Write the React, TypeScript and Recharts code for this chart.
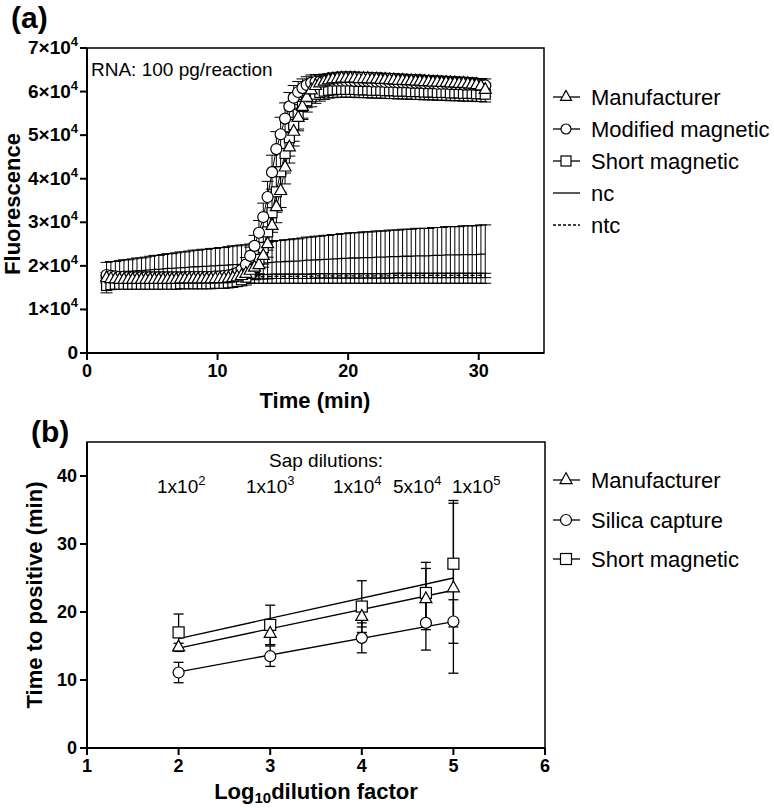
import { LineChart, Line, XAxis, YAxis, ErrorBar, ReferenceArea } from "recharts";

const FONT = '"Liberation Sans", Arial, Helvetica, sans-serif';

// ---------- (a) amplification curves, RNA 100 pg/reaction ----------
// time in minutes, fluorescence in thousands (axis shows x10^4)
const timeMin = [
  1.5, 1.83, 2.17, 2.5, 2.83, 3.17, 3.5, 3.83, 4.17, 4.5, 4.83, 5.17,
  5.5, 5.83, 6.17, 6.5, 6.83, 7.17, 7.5, 7.83, 8.17, 8.5, 8.83, 9.17,
  9.5, 9.83, 10.17, 10.5, 10.83, 11.17, 11.5, 11.83, 12.17, 12.5, 12.83, 13.17,
  13.5, 13.83, 14.17, 14.5, 14.83, 15.17, 15.5, 15.83, 16.17, 16.5, 16.83, 17.17,
  17.5, 17.83, 18.17, 18.5, 18.83, 19.17, 19.5, 19.83, 20.17, 20.5, 20.83, 21.17,
  21.5, 21.83, 22.17, 22.5, 22.83, 23.17, 23.5, 23.83, 24.17, 24.5, 24.83, 25.17,
  25.5, 25.83, 26.17, 26.5, 26.83, 27.17, 27.5, 27.83, 28.17, 28.5, 28.83, 29.17,
  29.5, 29.83, 30.17, 30.5,
];

const manufacturer = [
  17.2, 17.0, 16.9, 16.8, 16.8, 16.8, 16.8, 16.8, 16.8, 16.8, 16.8, 16.8,
  16.8, 16.8, 16.8, 16.8, 16.8, 16.9, 16.9, 16.9, 16.9, 16.9, 16.9, 16.9,
  16.9, 17.0, 17.0, 17.0, 17.1, 17.2, 17.4, 17.7, 18.2, 18.9, 19.6, 20.2,
  22.3, 25.0, 29.2, 33.5, 37.2, 42.6, 47.2, 50.8, 54.0, 56.5, 58.6, 60.3,
  61.3, 61.9, 62.3, 62.6, 62.8, 62.9, 63.0, 63.0, 63.0, 63.0, 62.9, 62.9,
  62.9, 62.8, 62.8, 62.7, 62.7, 62.6, 62.6, 62.5, 62.5, 62.4, 62.4, 62.3,
  62.3, 62.2, 62.2, 62.1, 62.1, 62.0, 62.0, 61.9, 61.9, 61.8, 61.8, 61.7,
  61.6, 61.5, 61.2, 60.4,
];
const manufacturerErr = [
  0.6, 0.5, 0.5, 0.5, 0.5, 0.5, 0.5, 0.5, 0.5, 0.5, 0.5, 0.5,
  0.5, 0.5, 0.5, 0.5, 0.5, 0.5, 0.5, 0.5, 0.5, 0.5, 0.5, 0.5,
  0.5, 0.5, 0.5, 0.5, 0.5, 0.6, 0.7, 0.9, 1.2, 1.5, 1.8, 2.2,
  2.6, 3.0, 3.4, 3.6, 3.8, 3.8, 3.6, 3.3, 3.0, 2.6, 2.3, 2.0,
  1.8, 1.7, 1.6, 1.5, 1.5, 1.5, 1.5, 1.5, 1.5, 1.5, 1.5, 1.5,
  1.5, 1.5, 1.5, 1.5, 1.5, 1.5, 1.5, 1.5, 1.5, 1.5, 1.5, 1.5,
  1.5, 1.5, 1.5, 1.5, 1.5, 1.5, 1.5, 1.5, 1.5, 1.5, 1.5, 1.5,
  1.5, 1.5, 1.5, 1.5,
];

const modifiedMagnetic = [
  17.9, 17.7, 17.6, 17.5, 17.5, 17.4, 17.4, 17.4, 17.4, 17.4, 17.4, 17.4,
  17.4, 17.4, 17.4, 17.4, 17.4, 17.4, 17.4, 17.5, 17.5, 17.5, 17.5, 17.5,
  17.5, 17.6, 17.6, 17.7, 17.8, 18.0, 18.4, 19.1, 20.3, 22.3, 24.6, 27.6,
  31.2, 35.8, 41.5, 46.8, 50.2, 53.8, 56.6, 58.6, 59.9, 60.8, 61.5, 62.0,
  62.2, 62.3, 62.4, 62.5, 62.5, 62.5, 62.5, 62.5, 62.5, 62.4, 62.4, 62.4,
  62.4, 62.3, 62.3, 62.3, 62.2, 62.2, 62.2, 62.1, 62.1, 62.1, 62.0, 62.0,
  62.0, 61.9, 61.9, 61.9, 61.8, 61.8, 61.8, 61.7, 61.7, 61.7, 61.6, 61.6,
  61.6, 61.5, 61.5, 61.4,
];
const modifiedMagneticErr = [
  0.6, 0.5, 0.5, 0.5, 0.5, 0.5, 0.5, 0.5, 0.5, 0.5, 0.5, 0.5,
  0.5, 0.5, 0.5, 0.5, 0.5, 0.5, 0.5, 0.5, 0.5, 0.5, 0.5, 0.5,
  0.5, 0.5, 0.5, 0.5, 0.6, 0.7, 0.9, 1.2, 1.6, 2.0, 2.4, 2.8,
  3.2, 3.6, 3.9, 4.0, 3.9, 3.6, 3.2, 2.8, 2.4, 2.1, 1.9, 1.8,
  1.7, 1.6, 1.6, 1.5, 1.5, 1.5, 1.5, 1.5, 1.5, 1.5, 1.5, 1.5,
  1.5, 1.5, 1.5, 1.5, 1.5, 1.5, 1.5, 1.5, 1.5, 1.5, 1.5, 1.5,
  1.5, 1.5, 1.5, 1.5, 1.5, 1.5, 1.5, 1.5, 1.5, 1.5, 1.5, 1.5,
  1.5, 1.5, 1.5, 1.5,
];

const shortMagnetic = [
  15.5, 15.7, 15.8, 15.8, 15.8, 15.8, 15.8, 15.8, 15.8, 15.8, 15.8, 15.8,
  15.8, 15.8, 15.8, 15.8, 15.8, 15.9, 15.9, 15.9, 15.9, 15.9, 15.9, 15.9,
  15.9, 16.0, 16.0, 16.0, 16.1, 16.2, 16.4, 16.8, 17.4, 18.3, 19.6, 21.5,
  24.2, 27.8, 32.2, 37.0, 41.6, 45.8, 49.4, 52.4, 54.8, 56.6, 57.9, 58.8,
  59.4, 59.8, 60.1, 60.3, 60.4, 60.5, 60.5, 60.5, 60.5, 60.5, 60.4, 60.4,
  60.4, 60.3, 60.3, 60.3, 60.2, 60.2, 60.2, 60.1, 60.1, 60.1, 60.0, 60.0,
  60.0, 59.9, 59.9, 59.9, 59.8, 59.8, 59.8, 59.7, 59.7, 59.7, 59.6, 59.6,
  59.6, 59.5, 59.5, 59.4,
];
const shortMagneticErr = [
  1.7, 1.0, 0.8, 0.7, 0.7, 0.7, 0.7, 0.7, 0.7, 0.7, 0.7, 0.7,
  0.7, 0.7, 0.7, 0.7, 0.7, 0.7, 0.7, 0.7, 0.7, 0.7, 0.7, 0.7,
  0.7, 0.7, 0.7, 0.7, 0.8, 0.9, 1.1, 1.4, 1.8, 2.3, 2.8, 3.3,
  3.8, 4.2, 4.5, 4.7, 4.7, 4.5, 4.2, 3.8, 3.4, 3.0, 2.6, 2.3,
  2.1, 2.0, 1.9, 1.8, 1.8, 1.8, 1.8, 1.8, 1.8, 1.8, 1.8, 1.8,
  1.8, 1.8, 1.8, 1.8, 1.8, 1.8, 1.8, 1.8, 1.8, 1.8, 1.8, 1.8,
  1.8, 1.8, 1.8, 1.8, 1.8, 1.8, 1.8, 1.8, 1.8, 1.8, 1.8, 1.8,
  1.8, 1.8, 1.8, 1.8,
];

const ncMean = [
  18.4, 18.5, 18.5, 18.6, 18.7, 18.7, 18.8, 18.9, 18.9, 19.0, 19.1, 19.2,
  19.2, 19.3, 19.4, 19.4, 19.5, 19.6, 19.6, 19.7, 19.8, 19.8, 19.9, 19.9,
  20.0, 20.0, 20.1, 20.1, 20.2, 20.3, 20.3, 20.4, 20.4, 20.5, 20.6, 20.6,
  20.7, 20.7, 20.8, 20.9, 20.9, 21.0, 21.0, 21.1, 21.1, 21.2, 21.3, 21.3,
  21.4, 21.4, 21.5, 21.5, 21.6, 21.6, 21.7, 21.7, 21.8, 21.8, 21.8, 21.9,
  21.9, 21.9, 22.0, 22.0, 22.0, 22.1, 22.1, 22.1, 22.2, 22.2, 22.2, 22.3,
  22.3, 22.3, 22.3, 22.4, 22.4, 22.4, 22.5, 22.5, 22.5, 22.5, 22.6, 22.6,
  22.6, 22.6, 22.7, 22.7,
];
const ncErr = [
  2.4, 2.5, 2.5, 2.6, 2.7, 2.7, 2.8, 2.9, 2.9, 3.0, 3.1, 3.2,
  3.2, 3.3, 3.4, 3.4, 3.5, 3.6, 3.6, 3.7, 3.8, 3.8, 3.9, 3.9,
  4.0, 4.0, 4.1, 4.1, 4.2, 4.3, 4.3, 4.4, 4.4, 4.5, 4.6, 4.6,
  4.7, 4.7, 4.8, 4.9, 4.9, 5.0, 5.0, 5.1, 5.1, 5.2, 5.3, 5.3,
  5.4, 5.4, 5.5, 5.5, 5.6, 5.6, 5.7, 5.7, 5.8, 5.8, 5.8, 5.9,
  5.9, 5.9, 6.0, 6.0, 6.0, 6.1, 6.1, 6.1, 6.2, 6.2, 6.2, 6.3,
  6.3, 6.3, 6.3, 6.4, 6.4, 6.4, 6.5, 6.5, 6.5, 6.5, 6.6, 6.6,
  6.6, 6.6, 6.7, 6.7,
];

const ntcMean = [
  17.2, 17.2, 17.2, 17.2, 17.2, 17.2, 17.2, 17.3, 17.3, 17.3, 17.3, 17.3,
  17.3, 17.3, 17.3, 17.3, 17.3, 17.4, 17.4, 17.4, 17.4, 17.4, 17.4, 17.4,
  17.4, 17.4, 17.4, 17.5, 17.5, 17.5, 17.5, 17.5, 17.5, 17.5, 17.5, 17.5,
  17.5, 17.5, 17.6, 17.6, 17.6, 17.6, 17.6, 17.6, 17.6, 17.6, 17.6, 17.6,
  17.7, 17.7, 17.7, 17.7, 17.7, 17.7, 17.7, 17.7, 17.7, 17.7, 17.7, 17.7,
  17.7, 17.7, 17.7, 17.7, 17.7, 17.7, 17.8, 17.8, 17.8, 17.8, 17.8, 17.8,
  17.8, 17.8, 17.8, 17.8, 17.8, 17.8, 17.8, 17.8, 17.8, 17.8, 17.8, 17.8,
  17.8, 17.8, 17.8, 17.8,
];
const ntcErr = [
  0.5, 0.5, 0.5, 0.5, 0.5, 0.5, 0.5, 0.5, 0.5, 0.5, 0.5, 0.5,
  0.5, 0.5, 0.5, 0.5, 0.5, 0.5, 0.5, 0.5, 0.5, 0.5, 0.5, 0.5,
  0.5, 0.5, 0.5, 0.5, 0.5, 0.5, 0.5, 0.5, 0.5, 0.5, 0.5, 0.5,
  0.5, 0.5, 0.5, 0.5, 0.5, 0.5, 0.5, 0.5, 0.5, 0.5, 0.5, 0.5,
  0.5, 0.5, 0.5, 0.5, 0.5, 0.5, 0.5, 0.5, 0.5, 0.5, 0.5, 0.5,
  0.5, 0.5, 0.5, 0.5, 0.5, 0.5, 0.5, 0.5, 0.5, 0.5, 0.5, 0.5,
  0.5, 0.5, 0.5, 0.5, 0.5, 0.5, 0.5, 0.5, 0.5, 0.5, 0.5, 0.5,
  0.5, 0.5, 0.5, 0.5,
];

const fluorTicks = [0, 10, 20, 30, 40, 50, 60, 70];
const timeTicks = [0, 10, 20, 30];

// ---------- (b) time to positive vs sap dilution ----------
const dilutionLog = [2, 3, 4, 4.7, 5];
const manufacturerTtp = [14.8, 16.8, 19.3, 21.9, 23.5];
const manufacturerTtpSd = [0.6, 1.6, 1.5, 4.5, 12.5];
const silicaTtp = [11.1, 13.5, 16.2, 18.4, 18.6];
const silicaTtpSd = [1.5, 1.5, 2.2, 4.0, 3.2];
const shortTtp = [17.0, 18.1, 20.8, 22.8, 27.1];
const shortTtpSd = [2.7, 2.9, 3.8, 4.5, 9.3];
// linear fits, values at the ends x = 2 and x = 5
const fitX = [2, 5];
const manufacturerFit = [14.7, 23.2];
const silicaFit = [11.2, 18.6];
const shortFit = [16.1, 25.0];
const sapLabels = [
  ["1", "2"],
  ["1", "3"],
  ["1", "4"],
  ["5", "4"],
  ["1", "5"],
];
const ttpTicks = [0, 10, 20, 30, 40];
const logTicks = [1, 2, 3, 4, 5, 6];

const curveData = timeMin.map((t, i) => ({
  t,
  man: manufacturer[i],
  manErr: manufacturerErr[i],
  mod: modifiedMagnetic[i],
  modErr: modifiedMagneticErr[i],
  sh: shortMagnetic[i],
  shErr: shortMagneticErr[i],
  nc: ncMean[i],
  ncErr: ncErr[i],
  ntc: ntcMean[i],
  ntcErr: ntcErr[i],
}));

const ttpData = dilutionLog.map((x, i) => {
  const f = fitX.indexOf(x);
  return {
    x,
    man: manufacturerTtp[i],
    manSd: manufacturerTtpSd[i],
    sil: silicaTtp[i],
    silSd: silicaTtpSd[i],
    sh: shortTtp[i],
    shSd: shortTtpSd[i],
    manFit: f >= 0 ? manufacturerFit[f] : null,
    silFit: f >= 0 ? silicaFit[f] : null,
    shFit: f >= 0 ? shortFit[f] : null,
  };
});

type MP = { cx: number; cy: number; s: number };

function Tri({ cx, cy, s }: MP) {
  const h = s * 0.9;
  const pts = `${cx},${cy - (2 * h) / 3} ${cx - s / 2},${cy + h / 3} ${cx + s / 2},${cy + h / 3}`;
  return <polygon points={pts} fill="#fff" stroke="#000" strokeWidth={1.2} />;
}
function Circ({ cx, cy, s }: MP) {
  return <circle cx={cx} cy={cy} r={s / 2} fill="#fff" stroke="#000" strokeWidth={1.2} />;
}
function Sq({ cx, cy, s }: MP) {
  return <rect x={cx - s / 2} y={cy - s / 2} width={s} height={s} fill="#fff" stroke="#000" strokeWidth={1.2} />;
}

const dotOf = (Shape: (p: MP) => any, s: number, id: string) => (p: any) => {
  if (p.cx == null || p.cy == null || p.value == null) return <g key={`${id}-${p.index}`} />;
  return (
    <g key={`${id}-${p.index}`}>
      <Shape cx={p.cx} cy={p.cy} s={s} />
    </g>
  );
};

function SciTick(props: any) {
  const { x, y, payload } = props;
  const v = payload.value;
  return (
    <text x={x} y={y} dy={6} textAnchor="end" fontFamily={FONT} fontSize={19} fontWeight={700} fill="#000">
      {v === 0 ? (
        "0"
      ) : (
        <>
          {v / 10}×10
          <tspan fontSize={13} dy={-8}>
            4
          </tspan>
        </>
      )}
    </text>
  );
}

const axisStroke = { stroke: "#000", strokeWidth: 2 };
const tickFont = { fill: "#000", fontSize: 18, fontWeight: 700, fontFamily: FONT };

function LegendRow({ y, label, marker, dash }: { y: number; label: string; marker?: any; dash?: string }) {
  return (
    <g>
      <line x1={553} x2={580} y1={y} y2={y} stroke="#000" strokeWidth={1.3} strokeDasharray={dash} />
      {marker}
      <text x={591} y={y + 8} fontSize={22} fontFamily={FONT} fill="#000">
        {label}
      </text>
    </g>
  );
}

const sapLeft = [157, 246, 333, 393, 452];

export default function App() {
  return (
    <div style={{ position: "absolute", left: 0, top: 0, width: 774, height: 808, background: "#fff", fontFamily: FONT }}>
      <div style={{ position: "absolute", left: 0, top: 0 }}>
        <LineChart width={774} height={420} data={curveData} margin={{ top: 48, right: 230, left: 27, bottom: 27 }}>
          <XAxis
            type="number"
            dataKey="t"
            domain={[0, 35]}
            ticks={timeTicks}
            allowDataOverflow
            height={40}
            tickSize={7}
            tickMargin={4}
            axisLine={axisStroke}
            tickLine={axisStroke}
            tick={tickFont}
          />
          <YAxis
            type="number"
            domain={[0, 70]}
            ticks={fluorTicks}
            width={60}
            tickSize={7}
            tickMargin={2}
            axisLine={axisStroke}
            tickLine={axisStroke}
            tick={(p: any) => <SciTick {...p} />}
          />
          <ReferenceArea x1={0} x2={35} y1={0} y2={70} fill="none" stroke="#000" strokeWidth={1.5} />
          <Line dataKey="nc" stroke="#000" strokeWidth={1.3} dot={false} activeDot={false} isAnimationActive={false}>
            <ErrorBar dataKey="ncErr" direction="y" width={6} stroke="#000" strokeWidth={1} isAnimationActive={false} />
          </Line>
          <Line dataKey="ntc" stroke="#000" strokeWidth={1.3} strokeDasharray="4 3" dot={false} activeDot={false} isAnimationActive={false}>
            <ErrorBar dataKey="ntcErr" direction="y" width={6} stroke="#000" strokeWidth={1} isAnimationActive={false} />
          </Line>
          <Line dataKey="sh" stroke="#000" strokeWidth={1} dot={dotOf(Sq, 10, "sq")} activeDot={false} isAnimationActive={false}>
            <ErrorBar dataKey="shErr" direction="y" width={6} stroke="#000" strokeWidth={1} isAnimationActive={false} />
          </Line>
          <Line dataKey="mod" stroke="#000" strokeWidth={1} dot={dotOf(Circ, 11, "ci")} activeDot={false} isAnimationActive={false}>
            <ErrorBar dataKey="modErr" direction="y" width={6} stroke="#000" strokeWidth={1} isAnimationActive={false} />
          </Line>
          <Line dataKey="man" stroke="#000" strokeWidth={1} dot={dotOf(Tri, 12, "tr")} activeDot={false} isAnimationActive={false}>
            <ErrorBar dataKey="manErr" direction="y" width={6} stroke="#000" strokeWidth={1} isAnimationActive={false} />
          </Line>
        </LineChart>
      </div>

      <div style={{ position: "absolute", left: 0, top: 420 }}>
        <LineChart width={774} height={388} data={ttpData} margin={{ top: 22, right: 229, left: 27, bottom: 20 }}>
          <XAxis
            type="number"
            dataKey="x"
            domain={[1, 6]}
            ticks={logTicks}
            height={40}
            tickSize={7}
            tickMargin={4}
            axisLine={axisStroke}
            tickLine={axisStroke}
            tick={tickFont}
          />
          <YAxis
            type="number"
            domain={[0, 45]}
            ticks={ttpTicks}
            width={60}
            tickSize={7}
            tickMargin={3}
            axisLine={axisStroke}
            tickLine={axisStroke}
            tick={tickFont}
          />
          <ReferenceArea x1={1} x2={6} y1={0} y2={45} fill="none" stroke="#000" strokeWidth={1.5} />
          <Line dataKey="shFit" connectNulls stroke="#000" strokeWidth={1.3} dot={false} activeDot={false} isAnimationActive={false} />
          <Line dataKey="manFit" connectNulls stroke="#000" strokeWidth={1.3} dot={false} activeDot={false} isAnimationActive={false} />
          <Line dataKey="silFit" connectNulls stroke="#000" strokeWidth={1.3} dot={false} activeDot={false} isAnimationActive={false} />
          <Line dataKey="sh" stroke="none" dot={false} activeDot={false} isAnimationActive={false}>
            <ErrorBar dataKey="shSd" direction="y" width={5} stroke="#000" strokeWidth={1.3} isAnimationActive={false} />
          </Line>
          <Line dataKey="man" stroke="none" dot={false} activeDot={false} isAnimationActive={false}>
            <ErrorBar dataKey="manSd" direction="y" width={5} stroke="#000" strokeWidth={1.3} isAnimationActive={false} />
          </Line>
          <Line dataKey="sil" stroke="none" dot={false} activeDot={false} isAnimationActive={false}>
            <ErrorBar dataKey="silSd" direction="y" width={5} stroke="#000" strokeWidth={1.3} isAnimationActive={false} />
          </Line>
          <Line dataKey="sh" stroke="none" dot={dotOf(Sq, 11, "bsq")} activeDot={false} isAnimationActive={false} />
          <Line dataKey="man" stroke="none" dot={dotOf(Tri, 12, "btr")} activeDot={false} isAnimationActive={false} />
          <Line dataKey="sil" stroke="none" dot={dotOf(Circ, 11, "bci")} activeDot={false} isAnimationActive={false} />
        </LineChart>
      </div>

      <svg
        width={774}
        height={808}
        style={{ position: "absolute", left: 0, top: 0, pointerEvents: "none" }}
        fontFamily={FONT}
      >
        {/* panel (a) */}
        <text x={11} y={28} fontSize={30} fontWeight={700} fill="#000">
          (a)
        </text>
        <text x={91} y={76} fontSize={19} fill="#000">
          RNA: 100 pg/reaction
        </text>
        <text transform="translate(20,204) rotate(-90)" textAnchor="middle" fontSize={22} fontWeight={700} fill="#000">
          Fluorescence
        </text>
        <text x={315} y={408} textAnchor="middle" fontSize={22} fontWeight={700} fill="#000">
          Time (min)
        </text>
        <LegendRow y={97} label="Manufacturer" marker={<Tri cx={566} cy={97} s={11} />} />
        <LegendRow y={129} label="Modified magnetic" marker={<Circ cx={566} cy={129} s={10} />} />
        <LegendRow y={161} label="Short magnetic" marker={<Sq cx={566} cy={161} s={10} />} />
        <LegendRow y={193} label="nc" />
        <LegendRow y={225} label="ntc" dash="3 2" />

        {/* panel (b) */}
        <text x={31} y={442} fontSize={30} fontWeight={700} fill="#000">
          (b)
        </text>
        <text x={269} y={467} fontSize={19} fill="#000">
          Sap dilutions:
        </text>
        {sapLabels.map(([m, e], i) => (
          <text key={i} x={sapLeft[i]} y={493} fontSize={19} fill="#000">
            {m}x10
            <tspan fontSize={13} dy={-8}>
              {e}
            </tspan>
          </text>
        ))}
        <text transform="translate(42,595) rotate(-90)" textAnchor="middle" fontSize={22} fontWeight={700} fill="#000">
          Time to positive (min)
        </text>
        <text x={316} y={799} textAnchor="middle" fontSize={22} fontWeight={700} fill="#000">
          Log
          <tspan fontSize={15} dy={4}>
            10
          </tspan>
          <tspan dy={-4}>dilution factor</tspan>
        </text>
        <LegendRow y={480} label="Manufacturer" marker={<Tri cx={566} cy={480} s={12} />} />
        <LegendRow y={520} label="Silica capture" marker={<Circ cx={566} cy={520} s={11} />} />
        <LegendRow y={559} label="Short magnetic" marker={<Sq cx={566} cy={559} s={11} />} />
      </svg>
    </div>
  );
}
